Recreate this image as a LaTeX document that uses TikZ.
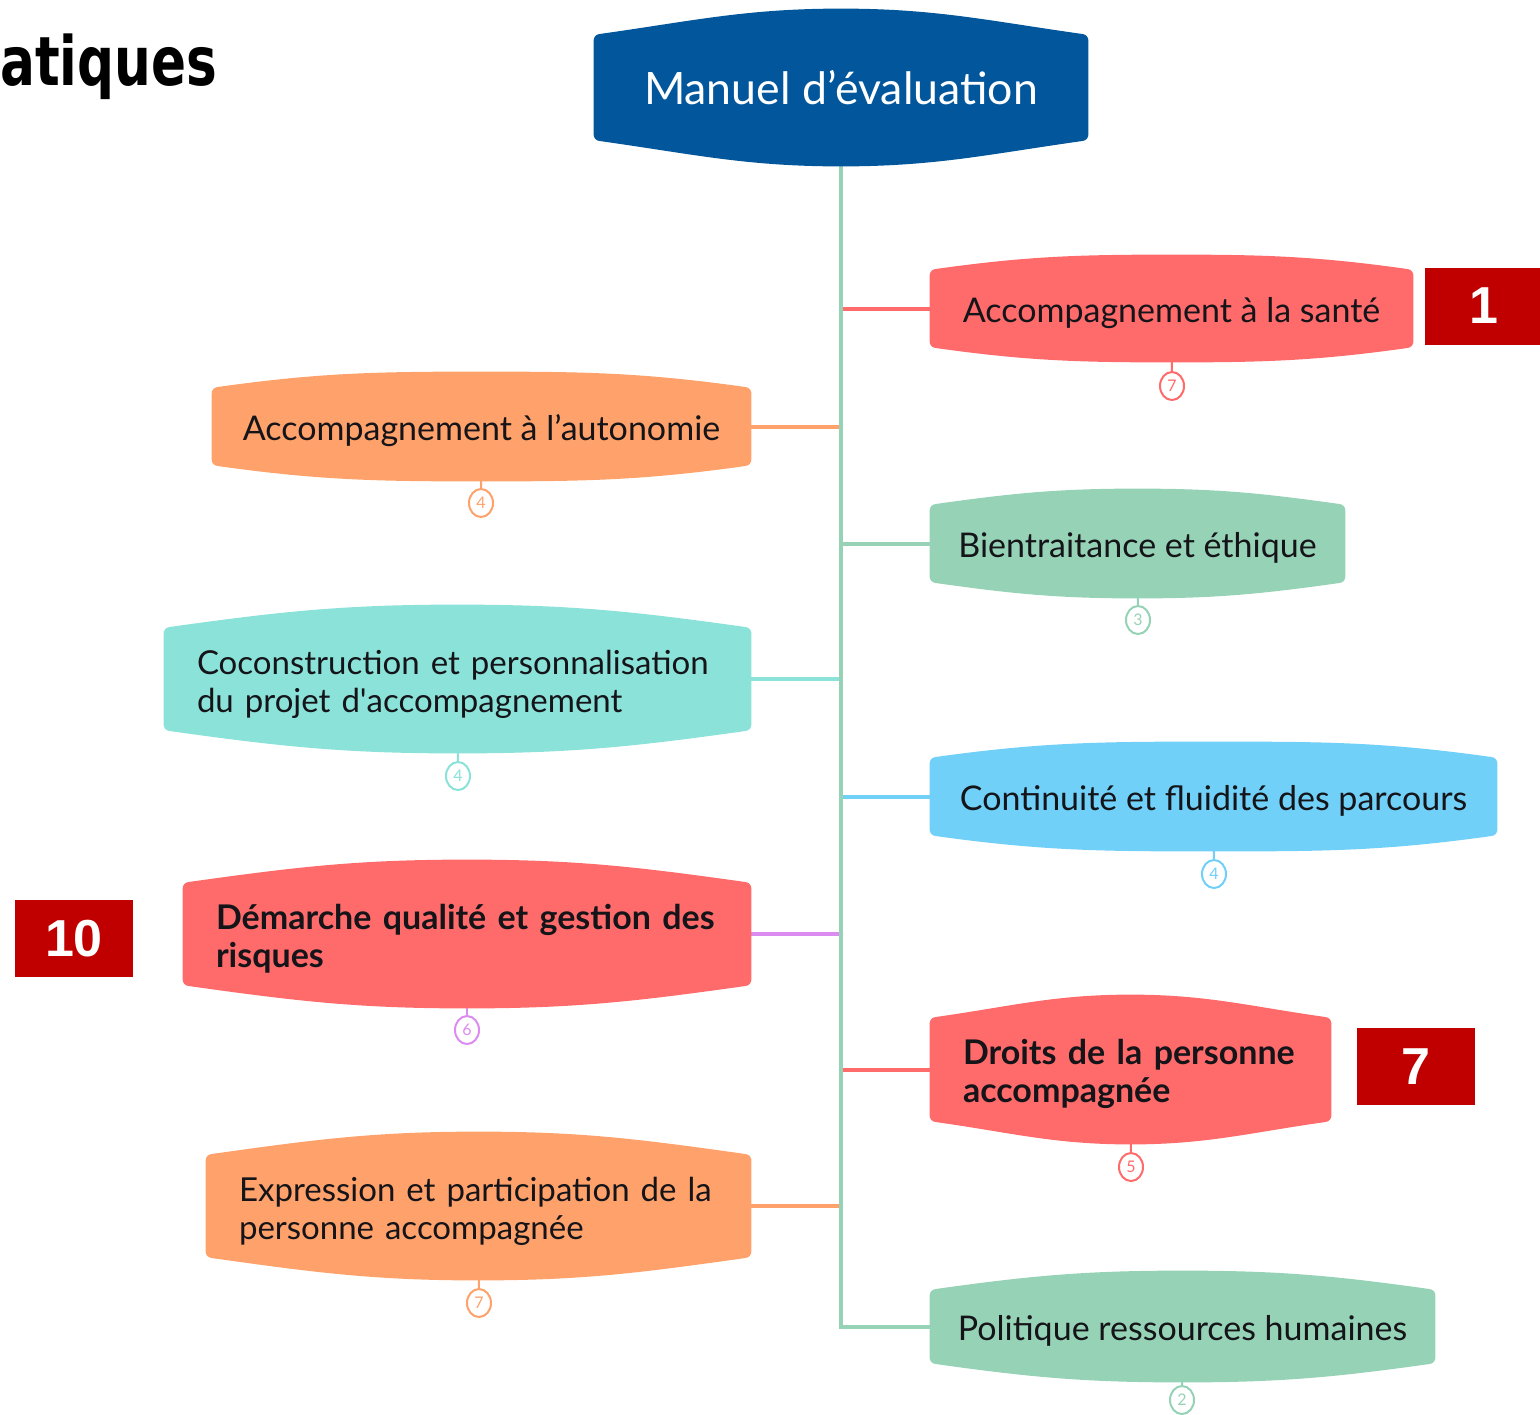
\documentclass[tikz,border=0pt]{standalone}
\usepackage{fontspec}
\setmainfont{Lato}
\newfontfamily\titrefont{DejaVu Sans}
\newfontfamily\arialfont{Liberation Sans}
\usepackage{tikz}
\usetikzlibrary{backgrounds}
\usetikzlibrary{shapes.geometric}

\definecolor{bleufonce}{RGB}{2,86,155}
\definecolor{rouge}{RGB}{255,107,107}
\definecolor{orange}{RGB}{255,161,106}
\definecolor{vert}{RGB}{150,211,182}
\definecolor{turquoise}{RGB}{138,226,216}
\definecolor{bleuclair}{RGB}{112,208,248}
\definecolor{violet}{RGB}{220,140,240}
\definecolor{rougefonce}{RGB}{192,0,0}
\definecolor{texte}{RGB}{20,20,25}

\tikzset{
  theme/.style={inner sep=0pt, text=texte, text height=17pt, font=\fontsize{17}{19}\selectfont},
  racine/.style={inner sep=0pt, text=white, font=\fontsize{22.3}{24}\selectfont},
  deuxlignes/.style={align=left, text width=#1},
  pastille/.style={ellipse, draw=#1, fill=white, line width=1pt, minimum width=12pt,
    minimum height=14pt, inner sep=0pt, text=#1, font=\fontsize{8}{9}\selectfont},
  branche/.style={draw=#1, line width=2pt},
  numero/.style={fill=rougefonce, text=white, minimum width=59pt, minimum height=38.5pt,
    inner sep=0pt, font=\arialfont\bfseries\fontsize{26}{28}\selectfont},
}

\newcommand{\bulle}[3]{%
  \fill[#2] ([yshift=-3pt]#1.north west)
    to[out=90,in=-175] ([xshift=3pt,yshift=0.3pt]#1.north west)
    to[out=8,in=180] ([yshift=#3]#1.north)
    to[out=0,in=172] ([xshift=-3pt,yshift=0.3pt]#1.north east)
    to[out=-5,in=90] ([yshift=-3pt]#1.north east)
    -- ([yshift=3pt]#1.south east)
    to[out=-90,in=5] ([xshift=-3pt,yshift=-0.3pt]#1.south east)
    to[out=-172,in=0] ([yshift=-#3]#1.south)
    to[out=180,in=-8] ([xshift=3pt,yshift=-0.3pt]#1.south west)
    to[out=175,in=-90] ([yshift=3pt]#1.south west)
    -- cycle;}

\begin{document}
\begin{tikzpicture}[x=0.5pt, y=-0.5pt]
		\useasboundingbox (0,0) rectangle (1540,1414);

		\node[anchor=base west, xscale=0.76, transform shape,
		  font=\titrefont\bfseries\fontsize{34}{36}\selectfont] (titre) at (-5,85) {atiques};

		\node[racine, minimum width=247pt, minimum height=52.5pt] (manuel) at (841,87.5) {Manuel d’évaluation};

		\node[theme, minimum width=241.5pt, minimum height=38.5pt] (sante) at (1171.5,308.5) {Accompagnement à la santé};
		\node[theme, minimum width=269.5pt, minimum height=38.5pt] (autonomie) at (481.5,426.5) {Accompagnement à l’autonomie};
		\node[theme, minimum width=207.5pt, minimum height=38.5pt] (bientraitance) at (1137.5,543.5) {Bientraitance et éthique};
		\node[theme, deuxlignes=260.5pt, minimum width=293.5pt, minimum height=51pt,
		  font=\fontsize{16.5}{19}\selectfont] (coconstruction) at (457.5,679)
		  {Coconstruction et personnalisation\\du projet d\textquotesingle accompagnement};
		\node[theme, minimum width=283.5pt, minimum height=38.5pt] (continuite) at (1213.5,796.5) {Continuité et fluidité des parcours};
		\node[theme, deuxlignes=251pt, minimum width=284pt, minimum height=51pt,
		  font=\bfseries\fontsize{17}{19}\selectfont] (demarche) at (467,934) {Démarche qualité et gestion des\\risques};
		\node[theme, deuxlignes=167.5pt, minimum width=200.5pt, minimum height=51.5pt,
		  font=\bfseries\fontsize{17}{19}\selectfont] (droits) at (1130.5,1069.5) {Droits de la personne\\accompagnée};
		\node[theme, deuxlignes=239.5pt, minimum width=272.5pt, minimum height=51pt,
		  font=\fontsize{16.5}{19}\selectfont] (expression) at (478.5,1206)
		  {Expression et participation de la\\personne accompagnée};
		\node[theme, minimum width=252.5pt, minimum height=36.5pt] (politique) at (1182.5,1326.5) {Politique ressources humaines};

		\node[pastille=rouge] (sante-n) at (1172,386) {7};
		\node[pastille=orange] (autonomie-n) at (481,503) {4};
		\node[pastille=vert] (bientraitance-n) at (1138,620) {3};
		\node[pastille=turquoise] (coconstruction-n) at (458,776) {4};
		\node[pastille=bleuclair] (continuite-n) at (1214,874) {4};
		\node[pastille=violet] (demarche-n) at (467,1030) {6};
		\node[pastille=rouge] (droits-n) at (1131,1167) {5};
		\node[pastille=orange] (expression-n) at (479,1303) {7};
		\node[pastille=vert] (politique-n) at (1182,1400) {2};

		\node[numero] (un) at (1483.5,306) {1};
		\node[numero] (dix) at (74,938.5) {10};
		\node[numero] (sept) at (1416,1066.5) {7};

		\begin{pgfonlayer}{background}
		\draw[branche=rouge] (sante.west) -- (sante.west -| manuel.south);
		\draw[branche=orange] (autonomie.east) -- (autonomie.east -| manuel.south);
		\draw[branche=vert] (bientraitance.west) -- (bientraitance.west -| manuel.south);
		\draw[branche=turquoise] (coconstruction.east) -- (coconstruction.east -| manuel.south);
		\draw[branche=bleuclair] (continuite.west) -- (continuite.west -| manuel.south);
		\draw[branche=violet] (demarche.east) -- (demarche.east -| manuel.south);
		\draw[branche=rouge] (droits.west) -- (droits.west -| manuel.south);
		\draw[branche=orange] (expression.east) -- (expression.east -| manuel.south);
		\draw[branche=vert] (manuel.south) |- (politique.west);

		\draw[rouge, line width=1pt] (sante) -- (sante-n);
		\draw[orange, line width=1pt] (autonomie) -- (autonomie-n);
		\draw[vert, line width=1pt] (bientraitance) -- (bientraitance-n);
		\draw[turquoise, line width=1pt] (coconstruction) -- (coconstruction-n);
		\draw[bleuclair, line width=1pt] (continuite) -- (continuite-n);
		\draw[violet, line width=1pt] (demarche) -- (demarche-n);
		\draw[rouge, line width=1pt] (droits) -- (droits-n);
		\draw[orange, line width=1pt] (expression) -- (expression-n);
		\draw[vert, line width=1pt] (politique) -- (politique-n);

		\bulle{manuel}{bleufonce}{13pt}
		\bulle{sante}{rouge}{7.5pt}
		\bulle{autonomie}{orange}{8pt}
		\bulle{bientraitance}{vert}{8pt}
		\bulle{coconstruction}{turquoise}{11.5pt}
		\bulle{continuite}{bleuclair}{8pt}
		\bulle{demarche}{rouge}{11.5pt}
		\bulle{droits}{rouge}{11.5pt}
		\bulle{expression}{orange}{11.5pt}
		\bulle{politique}{vert}{9.5pt}
		\end{pgfonlayer}
\end{tikzpicture}
\end{document}
